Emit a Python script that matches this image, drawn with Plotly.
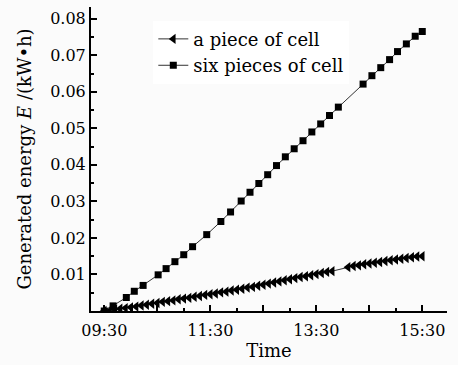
import plotly.graph_objects as go

DAY = "2000-01-01 "

# "a piece of cell" (triangles)
one_times = ["09:30", "09:36", "09:42", "09:48", "09:54", "10:00", "10:06", "10:12", "10:18", "10:24",
             "10:30", "10:36", "10:42", "10:48", "10:54", "11:00", "11:06", "11:12", "11:18", "11:24",
             "11:30", "11:36", "11:42", "11:48", "11:54", "12:00", "12:06", "12:12", "12:18", "12:24",
             "12:30", "12:36", "12:42", "12:48", "12:54", "13:00", "13:06", "13:12", "13:18", "13:24",
             "13:30", "13:36", "13:42", "13:48",
             "14:06", "14:12", "14:18", "14:24", "14:30", "14:36", "14:42", "14:48", "14:54", "15:00",
             "15:06", "15:12", "15:18", "15:24", "15:30"]
one_energy = [0.0000, 0.0002, 0.0004, 0.0006, 0.0008, 0.0010, 0.0012, 0.0015, 0.0017, 0.0020,
              0.0022, 0.0025, 0.0027, 0.0029, 0.0032, 0.0034, 0.0036, 0.0039, 0.0041, 0.0044,
              0.0046, 0.0048, 0.0051, 0.0053, 0.0056, 0.0058, 0.0061, 0.0064, 0.0066, 0.0069,
              0.0072, 0.0075, 0.0078, 0.0081, 0.0084, 0.0087, 0.0090, 0.0093, 0.0095, 0.0098,
              0.0101, 0.0104, 0.0107, 0.0109,
              0.0120, 0.0123, 0.0125, 0.0128, 0.0130, 0.0132, 0.0134, 0.0137, 0.0139, 0.0141,
              0.0143, 0.0145, 0.0147, 0.0149, 0.0150]

# "six pieces of cell" (squares)
six_times = ["09:30", "09:40", "09:55", "10:04", "10:14", "10:31", "10:40", "10:50", "11:00", "11:10",
             "11:26", "11:42", "11:53", "12:05", "12:15", "12:25", "12:35", "12:45", "12:55", "13:05",
             "13:15", "13:25", "13:35", "13:45", "13:55", "14:23", "14:33", "14:43", "14:53", "15:02",
             "15:12", "15:22", "15:30"]
six_energy = [0.0000, 0.0014, 0.0037, 0.0054, 0.0070, 0.0099, 0.0116, 0.0135, 0.0154, 0.0176,
              0.0209, 0.0245, 0.0271, 0.0301, 0.0325, 0.0349, 0.0373, 0.0398, 0.0422, 0.0444,
              0.0466, 0.0490, 0.0512, 0.0535, 0.0558, 0.0621, 0.0644, 0.0666, 0.0688, 0.0710,
              0.0731, 0.0752, 0.0765]

x_major = ["09:30", "10:30", "11:30", "12:30", "13:30", "14:30", "15:30"]
x_labels = ["09:30", "", "11:30", "", "13:30", "", "15:30"]
y_ticks = [0.01, 0.02, 0.03, 0.04, 0.05, 0.06, 0.07, 0.08]
y_labels = ["0.01", "0.02", "0.03", "0.04", "0.05", "0.06", "0.07", "0.08"]

FONT = "DejaVu Serif"

fig = go.Figure()
fig.add_trace(go.Scatter(
    x=[DAY + t for t in one_times], y=one_energy, mode="lines+markers",
    name="a piece of cell",
    line=dict(color="#333333", width=1),
    marker=dict(symbol="triangle-left", size=9, color="black"),
))
fig.add_trace(go.Scatter(
    x=[DAY + t for t in six_times], y=six_energy, mode="lines+markers",
    name="six pieces of cell",
    line=dict(color="#333333", width=1),
    marker=dict(symbol="square", size=7, color="black"),
))

fig.update_layout(
    width=458, height=365,
    margin=dict(l=91, r=11, t=7, b=51),
    paper_bgcolor="#fbfbfb", plot_bgcolor="#fbfbfb",
    font=dict(family=FONT, size=16, color="black"),
    showlegend=True,
    legend=dict(x=0.175, y=0.955, xanchor="left", yanchor="top",
                bgcolor="white", borderwidth=0,
                font=dict(family=FONT, size=18, color="black"),
                tracegroupgap=0, itemwidth=30),
)

fig.update_xaxes(
    type="date",
    range=[DAY + "09:15", DAY + "15:58"],
    tickvals=[DAY + t for t in x_major], ticktext=x_labels,
    ticks="inside", ticklen=6, tickwidth=2, tickcolor="black",
    showline=True, linewidth=2, linecolor="black",
    showgrid=False, zeroline=False,
    ticklabelstandoff=4,
    minor=dict(dtick=30 * 60 * 1000, tick0=DAY + "09:30", ticks="inside",
               ticklen=3, tickwidth=1.5, tickcolor="black", showgrid=False),
    title=dict(text="Time", font=dict(family=FONT, size=18), standoff=5),
    tickfont=dict(family=FONT, size=16),
)
fig.update_yaxes(
    range=[0, 0.0832],
    tickvals=y_ticks, ticktext=y_labels,
    ticks="inside", ticklen=6, tickwidth=2, tickcolor="black",
    showline=True, linewidth=2, linecolor="black",
    showgrid=False, zeroline=False,
    minor=dict(dtick=0.005, tick0=0, ticks="inside", ticklen=3, tickwidth=1.5,
               tickcolor="black", showgrid=False),
    title=dict(text="Generated energy <i>E</i> /(kW•h)", font=dict(family=FONT, size=18), standoff=14),
    tickfont=dict(family=FONT, size=16),
)

fig.write_html("out.html")
